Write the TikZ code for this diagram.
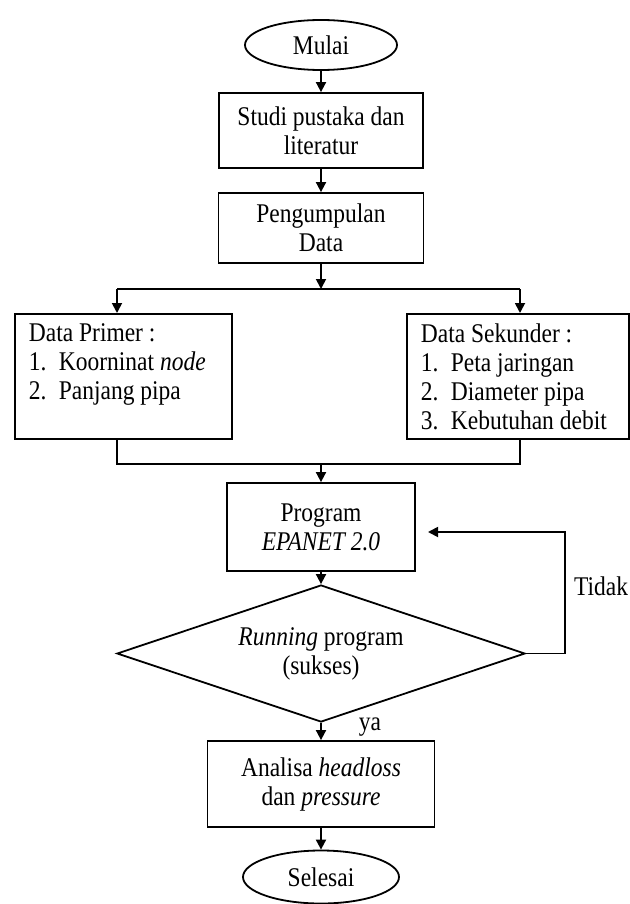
\documentclass[tikz,border=0pt]{standalone}
\usepackage{fontspec}
\setmainfont{Liberation Serif}[FakeStretch=0.87]
\usetikzlibrary{shapes.geometric,arrows.meta}
\tikzset{
	kotak/.style={draw, black, line width=0.9pt, rectangle, align=center, inner sep=0pt},
	oval/.style={draw, black, line width=0.9pt, ellipse, inner sep=0pt},
	belah/.style={draw, black, line width=0.9pt, diamond, aspect=3, inner sep=0pt, align=center},
	garis/.style={black, line width=0.9pt},
	panah/.style={black, line width=0.9pt, -{Triangle[length=5pt,width=5pt]}}
}
\newcommand{\nomor}[1]{\makebox[15pt][l]{#1}}

\begin{document}
\begin{tikzpicture}[x=0.5pt, y=-0.5pt, font=\fontsize{13.5}{14.5}\selectfont]
	\useasboundingbox (0,0) rectangle (629,904);
	\node[oval, minimum width=76pt, minimum height=25pt] (mulai) at (321,45) {Mulai};
	\node[kotak, minimum width=102pt, minimum height=37.5pt] (studi) at (321,130.5) {Studi pustaka dan\\literatur};
	\node[kotak, minimum width=102.5pt, minimum height=35pt] (kumpul) at (321,228) {Pengumpulan\\Data};
	\node[kotak, align=left, anchor=north west, inner xsep=7pt, inner ysep=5pt] (primer) at (14,313)
		{\parbox[c][52.5pt][t]{94.5pt}{Data Primer :\\\nomor{1.}Koorninat \textit{node}\\\nomor{2.}Panjang pipa}};
	\node[kotak, align=left, anchor=north west, inner xsep=7pt, inner ysep=5pt] (sekunder) at (406,313)
		{\parbox[c][52.5pt][t]{97pt}{Data Sekunder :\\\nomor{1.}Peta jaringan\\\nomor{2.}Diameter pipa\\\nomor{3.}Kebutuhan debit}};
	\node[kotak, minimum width=94pt, minimum height=44pt] (program) at (321,527) {Program\\\textit{EPANET 2.0}};
	\node[belah, minimum width=204pt, minimum height=68.5pt] (cek) at (321,653.5) {\textit{Running} program\\(sukses)};
	\node[kotak, minimum width=113.5pt, minimum height=43pt] (analisa) at (321,784) {Analisa \textit{headloss}\\dan \textit{pressure}};
	\node[oval, minimum width=78pt, minimum height=26.5pt] (selesai) at (321,877) {Selesai};
	\node (tidak) at (601,586) {Tidak};
	\node (ya) at (370,727) {ya};

	\coordinate (cabang) at (321,289);
	\coordinate (kiri) at (117,289);
	\coordinate (kanan) at (520,289);
	\coordinate (gabung) at (321,464);
	\coordinate (belok) at (565,532);
	\coordinate (balik) at (428,532);

	\draw[panah] (mulai.south) -- (studi.north);
	\draw[panah] (studi.south) -- (kumpul.north);
	\draw[panah] (kumpul.south) -- (cabang);
	\draw[garis] (kiri) -- (kanan);
	\draw[panah] (kiri) -- (kiri |- primer.north);
	\draw[panah] (kanan) -- (kanan |- sekunder.north);
	\draw[garis] (kiri |- primer.south) -- (kiri |- gabung) -- (kanan |- gabung) -- (kanan |- sekunder.south);
	\draw[panah] (gabung) -- (program.north);
	\draw[panah] (program.south) -- (cek.north);
	\draw[panah] (cek.east) -| (belok) -- (balik);
	\draw[panah] (cek.south) -- (analisa.north);
	\draw[panah] (analisa.south) -- (selesai.north);
\end{tikzpicture}
\end{document}
